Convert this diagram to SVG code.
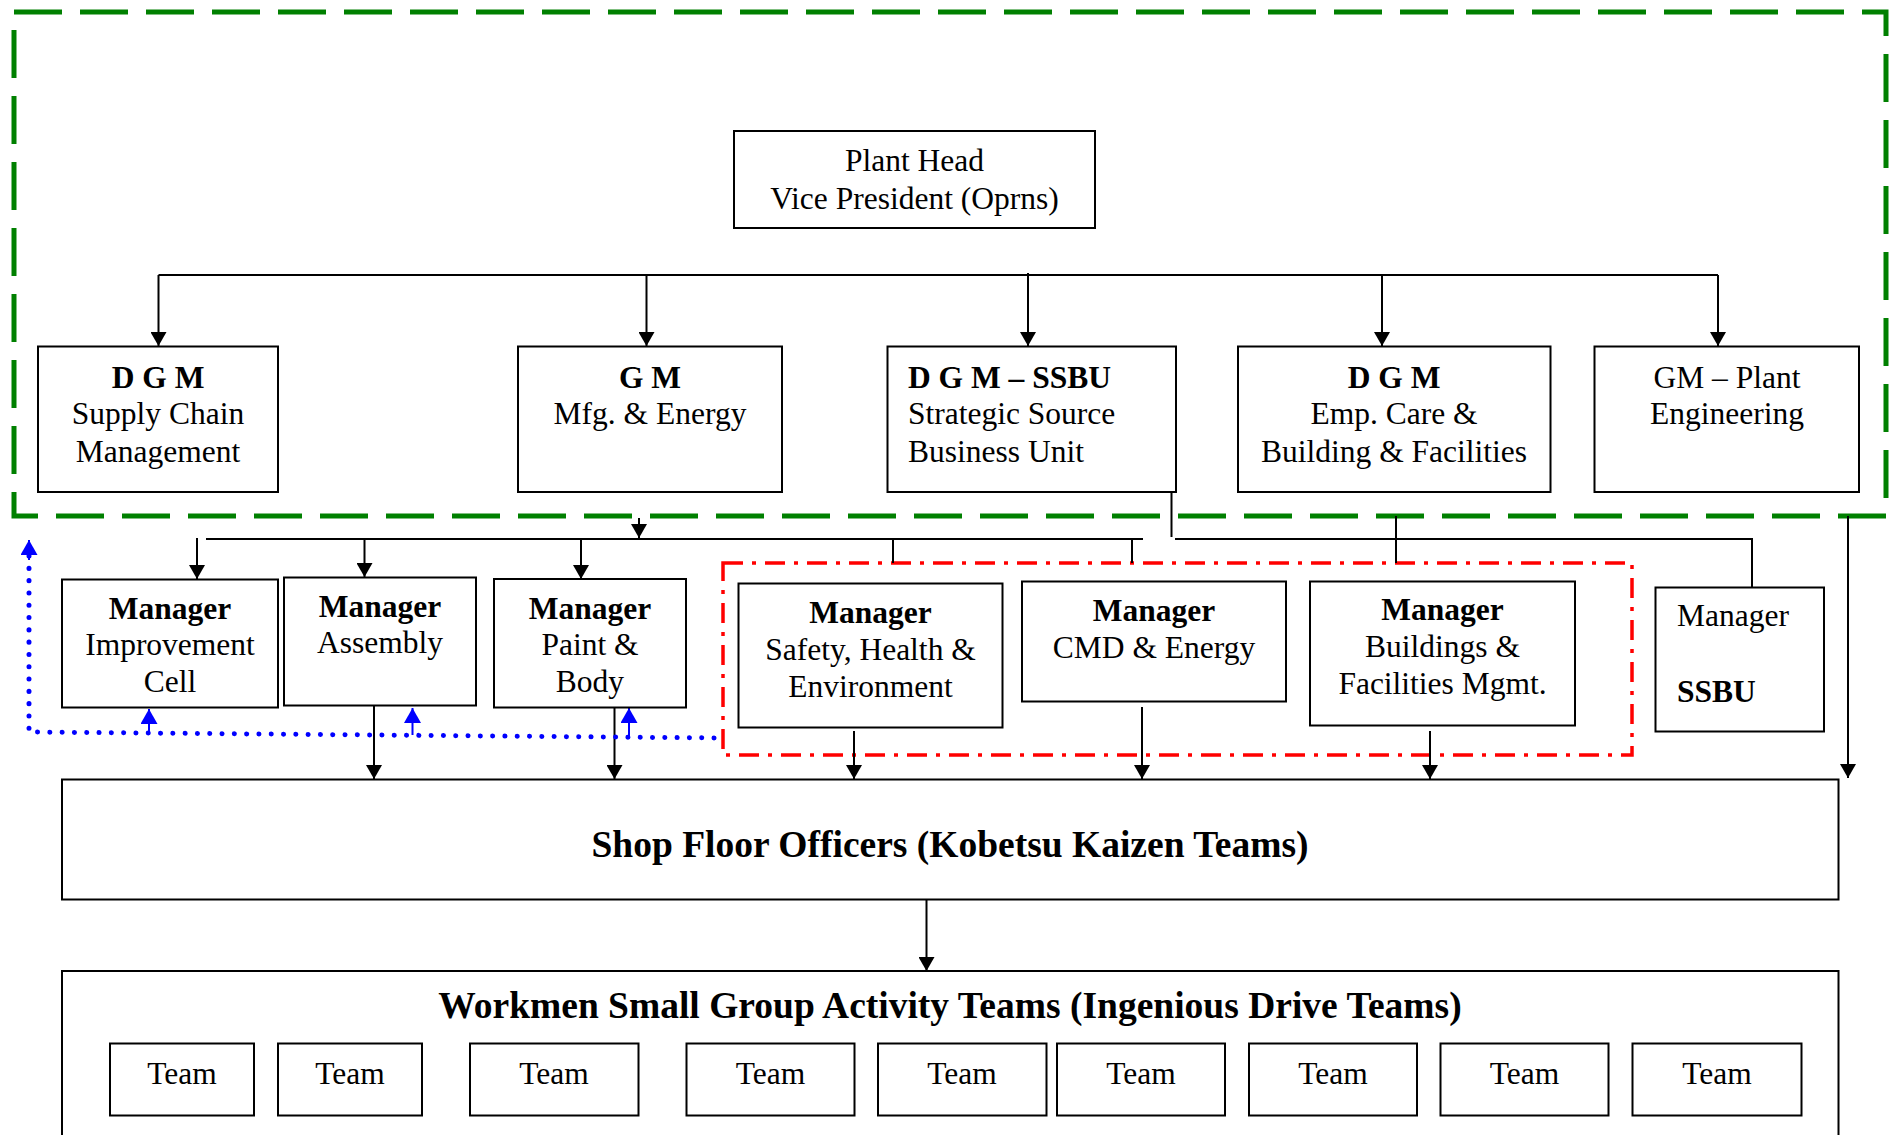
<svg xmlns="http://www.w3.org/2000/svg" width="1894" height="1135" viewBox="0 0 1894 1135">
<style>
  .box { fill: #fff; stroke: #000; stroke-width: 2; }
  .t { font-family: "Liberation Serif", "Times New Roman", serif; font-size: 31.5px; fill: #000; }
  .c { text-anchor: middle; }
  .b { font-weight: bold; }
  .big { font-size: 37.5px; font-weight: bold; }
  .ln { fill: none; stroke: #000; stroke-width: 2; }
  .bl { fill: none; stroke: #0000ff; stroke-width: 2; }
  .dots { fill: none; stroke: #0000ff; stroke-width: 5; stroke-dasharray: 0.1 12.2; stroke-linecap: round; }
  .green { fill: none; stroke: #008000; stroke-width: 5; stroke-dasharray: 48 18; }
  .red { fill: none; stroke: #ff0000; stroke-width: 3.5; stroke-dasharray: 20 9 4 9; }
</style>
<defs>
  <marker id="ah" viewBox="0 0 14 16" refX="14" refY="8" markerWidth="14" markerHeight="16" markerUnits="userSpaceOnUse" orient="auto">
    <path d="M0,0 L14,8 L0,16 Z" fill="#000"/>
  </marker>
  <marker id="bh" viewBox="0 0 15 17" refX="15" refY="8.5" markerWidth="15" markerHeight="17" markerUnits="userSpaceOnUse" orient="auto">
    <path d="M0,0 L15,8.5 L0,17 Z" fill="#0000ff"/>
  </marker>
</defs>
<rect width="1894" height="1135" fill="#fff"/>

<g id="groups">
  <rect id="green-boundary" class="green" x="14" y="12" width="1872" height="504"/>
  <rect id="red-boundary" class="red" x="723" y="563" width="909" height="192"/>
</g>

<g id="connectors">
  <path class="ln" d="M158.5,275 L1718,275"/>
  <path class="ln" d="M158.5,275 L158.5,346" marker-end="url(#ah)"/>
  <path class="ln" d="M646.5,275 L646.5,346" marker-end="url(#ah)"/>
  <path class="ln" d="M1028,273 L1028,346" marker-end="url(#ah)"/>
  <path class="ln" d="M1382,275 L1382,346" marker-end="url(#ah)"/>
  <path class="ln" d="M1718,275 L1718,346" marker-end="url(#ah)"/>
  <path class="ln" d="M639,518 L639,538" marker-end="url(#ah)"/>
  <path class="ln" d="M206,539 L1143,539"/>
  <path class="ln" d="M197,538 L197,579" marker-end="url(#ah)"/>
  <path class="ln" d="M364.5,539 L364.5,577" marker-end="url(#ah)"/>
  <path class="ln" d="M581,539 L581,579" marker-end="url(#ah)"/>
  <path class="ln" d="M893,539 L893,563"/>
  <path class="ln" d="M1132,539 L1132,563"/>
  <path class="ln" d="M1171.5,489 L1171.5,537"/>
  <path class="ln" d="M1175,539 L1752,539 L1752,587"/>
  <path class="ln" d="M1396,516 L1396,563"/>
  <path class="ln" d="M1848,516 L1848,778" marker-end="url(#ah)"/>
  <path class="ln" d="M374,706 L374,779" marker-end="url(#ah)"/>
  <path class="ln" d="M614.5,708 L614.5,779" marker-end="url(#ah)"/>
  <path class="ln" d="M854,731 L854,779" marker-end="url(#ah)"/>
  <path class="ln" d="M1142,707 L1142,779" marker-end="url(#ah)"/>
  <path class="ln" d="M1430,731 L1430,779" marker-end="url(#ah)"/>
  <path class="ln" d="M926.5,900 L926.5,971" marker-end="url(#ah)"/>
  <path class="dots" d="M29,556 L29,732 L722,738"/>
  <path class="bl" d="M29,560 L29,540" marker-end="url(#bh)"/>
  <path class="bl" d="M149,732 L149,709" marker-end="url(#bh)"/>
  <path class="bl" d="M412.5,735 L412.5,708" marker-end="url(#bh)"/>
  <path class="bl" d="M629,737 L629,708" marker-end="url(#bh)"/>
</g>

<g id="plant-head">
  <rect class="box" x="734" y="131" width="361" height="97"/>
  <text class="t c" x="914.5" y="171">Plant Head</text>
  <text class="t c" x="914.5" y="208.5">Vice President (Oprns)</text>
</g>

<g id="dgm-scm">
  <rect class="box" x="38" y="346.5" width="240" height="145.5"/>
  <text class="t c b" x="158" y="387.5">D G M</text>
  <text class="t c" x="158" y="424">Supply Chain</text>
  <text class="t c" x="158" y="461.5">Management</text>
</g>

<g id="gm-mfg">
  <rect class="box" x="518" y="346.5" width="264" height="145.5"/>
  <text class="t c b" x="650" y="387.5">G M</text>
  <text class="t c" x="650" y="424">Mfg. &amp; Energy</text>
</g>

<g id="dgm-ssbu">
  <rect class="box" x="887.5" y="346.5" width="288.5" height="145.5"/>
  <text class="t b" x="908" y="387.5">D G M – SSBU</text>
  <text class="t" x="908" y="424">Strategic Source</text>
  <text class="t" x="908" y="461.5">Business Unit</text>
</g>

<g id="dgm-emp">
  <rect class="box" x="1238" y="346.5" width="312.5" height="145.5"/>
  <text class="t c b" x="1394" y="387.5">D G M</text>
  <text class="t c" x="1394" y="424">Emp. Care &amp;</text>
  <text class="t c" x="1394" y="461.5">Building &amp; Facilities</text>
</g>

<g id="gm-plant">
  <rect class="box" x="1594.5" y="346.5" width="264.5" height="145.5"/>
  <text class="t c" x="1727" y="387.5">GM – Plant</text>
  <text class="t c" x="1727" y="424">Engineering</text>
</g>

<g id="mgr-improvement">
  <rect class="box" x="62" y="579.5" width="216" height="128"/>
  <text class="t c b" x="170" y="619">Manager</text>
  <text class="t c" x="170" y="655">Improvement</text>
  <text class="t c" x="170" y="692">Cell</text>
</g>

<g id="mgr-assembly">
  <rect class="box" x="284" y="577.5" width="192" height="128"/>
  <text class="t c b" x="380" y="617">Manager</text>
  <text class="t c" x="380" y="653">Assembly</text>
</g>

<g id="mgr-paint">
  <rect class="box" x="494" y="579" width="192" height="128.5"/>
  <text class="t c b" x="590" y="619">Manager</text>
  <text class="t c" x="590" y="655">Paint &amp;</text>
  <text class="t c" x="590" y="692">Body</text>
</g>

<g id="mgr-safety">
  <rect class="box" x="738.5" y="583.5" width="264" height="144"/>
  <text class="t c b" x="870.5" y="623">Manager</text>
  <text class="t c" x="870.5" y="659.5">Safety, Health &amp;</text>
  <text class="t c" x="870.5" y="696.5">Environment</text>
</g>

<g id="mgr-cmd">
  <rect class="box" x="1022" y="581.5" width="264" height="120"/>
  <text class="t c b" x="1154" y="621">Manager</text>
  <text class="t c" x="1154" y="658">CMD &amp; Energy</text>
</g>

<g id="mgr-buildings">
  <rect class="box" x="1310" y="581.5" width="265" height="144"/>
  <text class="t c b" x="1442.5" y="620">Manager</text>
  <text class="t c" x="1442.5" y="657">Buildings &amp;</text>
  <text class="t c" x="1442.5" y="694">Facilities Mgmt.</text>
</g>

<g id="mgr-ssbu">
  <rect class="box" x="1655.5" y="587.5" width="168.5" height="144"/>
  <text class="t" x="1677" y="626">Manager</text>
  <text class="t b" x="1677" y="702">SSBU</text>
</g>

<g id="shop-floor">
  <rect class="box" x="62" y="779.5" width="1776.5" height="120"/>
  <text class="t c big" x="950" y="857">Shop Floor Officers (Kobetsu Kaizen Teams)</text>
</g>

<g id="workmen">
  <rect class="box" x="62" y="971" width="1776.5" height="200"/>
  <text class="t c big" x="950" y="1018">Workmen Small Group Activity Teams (Ingenious Drive Teams)</text>
  <g id="team-1"><rect class="box" x="110" y="1043.5" width="144" height="72"/><text class="t c" x="182" y="1084">Team</text></g>
  <g id="team-2"><rect class="box" x="278" y="1043.5" width="144" height="72"/><text class="t c" x="350" y="1084">Team</text></g>
  <g id="team-3"><rect class="box" x="470" y="1043.5" width="168.5" height="72"/><text class="t c" x="554" y="1084">Team</text></g>
  <g id="team-4"><rect class="box" x="686.5" y="1043.5" width="168" height="72"/><text class="t c" x="770.5" y="1084">Team</text></g>
  <g id="team-5"><rect class="box" x="878" y="1043.5" width="168.5" height="72"/><text class="t c" x="962" y="1084">Team</text></g>
  <g id="team-6"><rect class="box" x="1057" y="1043.5" width="168" height="72"/><text class="t c" x="1141" y="1084">Team</text></g>
  <g id="team-7"><rect class="box" x="1249" y="1043.5" width="168" height="72"/><text class="t c" x="1333" y="1084">Team</text></g>
  <g id="team-8"><rect class="box" x="1440.5" y="1043.5" width="168" height="72"/><text class="t c" x="1524.5" y="1084">Team</text></g>
  <g id="team-9"><rect class="box" x="1632.5" y="1043.5" width="169" height="72"/><text class="t c" x="1717" y="1084">Team</text></g>
</g>
</svg>
